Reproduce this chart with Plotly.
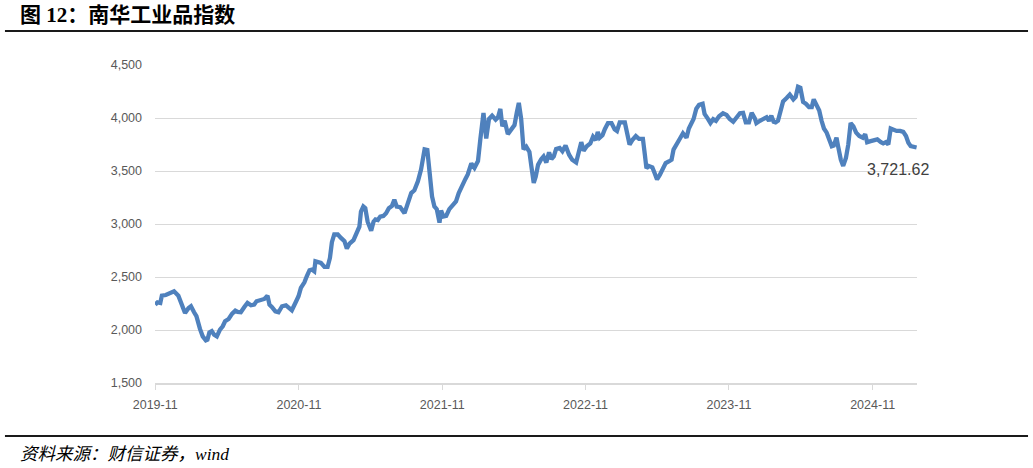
import pandas as pd
import plotly.graph_objects as go

# ---- data ----
start_date = "2019-11-01"
days_from_start = [
    0, 6, 13, 17, 27, 37, 48, 59, 68, 76, 85, 91, 99, 105, 114, 121, 129, 133, 138, 144,
    150, 157, 165, 172, 178, 187, 196, 204, 210, 218, 227, 235, 244, 252, 258, 269, 278, 286, 291, 297,
    306, 314, 323, 333, 342, 348, 359, 365, 371, 380, 386, 393, 399, 405, 408, 414, 422, 431, 439, 445,
    450, 456, 465, 473, 482, 488, 495, 505, 513, 520, 524, 530, 535, 541, 550, 556, 561, 567, 573, 581,
    588, 595, 603, 609, 615, 624, 635, 643, 652, 660, 669, 677, 686, 693, 698, 705, 711, 717, 724, 728,
    734, 741, 749, 758, 766, 773, 782, 790, 796, 805, 813, 822, 828, 836, 843, 850, 858, 867, 873, 879,
    884, 890, 898, 907, 915, 921, 926, 932, 938, 945, 953, 958, 964, 969, 975, 983, 989, 996, 1003, 1009,
    1015, 1021, 1030, 1037, 1045, 1054, 1062, 1072, 1079, 1085, 1091, 1099, 1108, 1115, 1122, 1127, 1132, 1139, 1145, 1153,
    1162, 1170, 1176, 1183, 1196, 1201, 1208, 1215, 1224, 1232, 1242, 1247, 1251, 1257, 1266, 1272, 1278, 1285, 1292, 1300,
    1308, 1315, 1320, 1327, 1336, 1344, 1353, 1359, 1366, 1371, 1378, 1385, 1394, 1399, 1408, 1414, 1421, 1428, 1436, 1446,
    1455, 1463, 1472, 1480, 1489, 1497, 1504, 1512, 1519, 1527, 1531, 1540, 1548, 1557, 1563, 1569, 1575, 1580, 1586, 1592,
    1599, 1608, 1616, 1625, 1631, 1637, 1643, 1650, 1657, 1665, 1672, 1677, 1684, 1691, 1697, 1703, 1710, 1716, 1723, 1728,
    1735, 1739, 1746, 1752, 1759, 1765, 1771, 1778, 1785, 1793, 1802, 1808, 1813, 1822, 1831, 1839, 1848, 1854, 1861, 1867,
    1873, 1880, 1888, 1897, 1905, 1912, 1918, 1924, 1931, 1939,
]
index_values = [
    2239, 2261, 2255, 2324, 2330, 2350, 2365, 2324, 2230, 2160, 2208, 2224, 2167, 2130, 2010, 1940, 1902, 1908, 1978, 1990,
    1956, 1940, 2003, 2035, 2082, 2104, 2154, 2183, 2170, 2167, 2217, 2255, 2233, 2239, 2271, 2280, 2293, 2324, 2239, 2217,
    2176, 2167, 2224, 2233, 2208, 2186, 2271, 2318, 2397, 2450, 2507, 2564, 2570, 2554, 2649, 2640, 2633, 2595, 2595, 2680,
    2828, 2901, 2901, 2869, 2838, 2768, 2816, 2848, 2911, 2975, 3117, 3165, 3149, 3022, 2937, 3022, 3044, 3038, 3070, 3076,
    3102, 3149, 3171, 3229, 3165, 3159, 3102, 3181, 3292, 3318, 3403, 3514, 3705, 3699, 3483, 3260, 3165, 3140, 3013, 3127,
    3070, 3076, 3140, 3181, 3213, 3292, 3371, 3425, 3467, 3571, 3530, 3594, 3800, 4048, 3806, 3990, 4022, 3984, 4006, 4086,
    3921, 3975, 3848, 3902, 3933, 4054, 4143, 3990, 3705, 3730, 3680, 3542, 3388, 3446, 3558, 3612, 3638, 3580, 3676, 3612,
    3638, 3708, 3718, 3686, 3740, 3654, 3606, 3580, 3676, 3772, 3692, 3734, 3760, 3824, 3792, 3868, 3814, 3837, 3894, 3952,
    3952, 3894, 3878, 3958, 3958, 3862, 3750, 3792, 3830, 3804, 3804, 3654, 3526, 3548, 3535, 3478, 3420, 3462, 3526, 3574,
    3590, 3606, 3702, 3740, 3804, 3856, 3814, 3901, 3952, 3990, 4087, 4125, 4135, 4038, 3990, 3952, 3990, 3974, 4016, 4045,
    4029, 3990, 3965, 4006, 4045, 4048, 3958, 3958, 4048, 3997, 3952, 3974, 3990, 4006, 3974, 4022, 3965, 3958, 3974, 4054,
    4157, 4189, 4221, 4176, 4199, 4295, 4285, 4151, 4135, 4103, 4103, 4176, 4119, 4071, 3974, 3901, 3862, 3798, 3734, 3740,
    3814, 3734, 3606, 3548, 3622, 3750, 3952, 3920, 3862, 3830, 3814, 3846, 3772, 3782, 3792, 3798, 3772, 3760, 3772, 3750,
    3901, 3888, 3878, 3878, 3869, 3830, 3766, 3734, 3728, 3721.62,
]
y_ticks = [1500, 2000, 2500, 3000, 3500, 4000, 4500]
title_text = "图 12：南华工业品指数"
source_text = "资料来源：财信证券，wind"

# ---- build ----
dates = pd.Timestamp(start_date) + pd.to_timedelta(days_from_start, unit="D")

LINE = "#4F81BD"
GRID = "#D9D9D9"
LABEL = "#595959"
TICKFONT = dict(family="Liberation Sans, Arial, sans-serif", size=12.5, color=LABEL)
CJK = "Liberation Serif, Noto Sans CJK SC, serif"

fig = go.Figure()
fig.add_trace(go.Scatter(
    x=dates, y=index_values, mode="lines",
    line=dict(color=LINE, width=4.3, shape="linear"),
    hoverinfo="skip", showlegend=False,
))

last_val = index_values[-1]
fig.add_annotation(
    x=dates[-1], y=last_val, xref="x", yref="y",
    text=f"{last_val:,.2f}", showarrow=False,
    xanchor="center", yanchor="middle", xshift=-19, yshift=-22,
    font=dict(family="Liberation Sans, Arial, sans-serif", size=16, color="#404040"),
)

# title / source text
fig.add_annotation(
    x=-0.1798, y=1.157, xref="paper", yref="paper", xanchor="left", yanchor="middle",
    text=f"<b>{title_text}</b>", showarrow=False,
    font=dict(family=CJK, size=21, color="#000000"),
)
fig.add_annotation(
    x=-0.1798, y=-0.2233, xref="paper", yref="paper", xanchor="left", yanchor="middle",
    text=f"<i>{source_text}</i>", showarrow=False,
    font=dict(family=CJK, size=17.5, color="#000000"),
)
# horizontal rules
for yy in (1.1069, -0.1667):
    fig.add_shape(type="line", xref="paper", yref="paper",
                  x0=-0.1969, x1=1.1457, y0=yy, y1=yy,
                  line=dict(color="#1a1a1a", width=2))

x_end = dates[-1] + pd.Timedelta(days=1)
fig.update_xaxes(
    type="date", range=[pd.Timestamp(start_date) - pd.Timedelta(hours=12), x_end],
    tick0=start_date, dtick="M12", tickformat="%Y-%m",
    showgrid=False, showline=True, linecolor=GRID, linewidth=1.5,
    ticks="outside", ticklen=5, tickcolor=GRID, tickwidth=1,
    tickfont=TICKFONT, ticklabelstandoff=4, zeroline=False,
)
fig.update_yaxes(
    range=[1500, 4500], tickvals=y_ticks, tickformat=",d",
    showgrid=True, gridcolor=GRID, gridwidth=1.2,
    showline=False, zeroline=False, ticks="",
    tickfont=TICKFONT, ticklabelstandoff=12,
)
fig.update_layout(
    width=1033, height=468,
    margin=dict(l=155, r=116, t=65, b=85),
    paper_bgcolor="white", plot_bgcolor="white",
    showlegend=False,
)
fig.write_html("out.html", config={"displayModeBar": False},
               post_script="document.body.style.margin='0px';")
